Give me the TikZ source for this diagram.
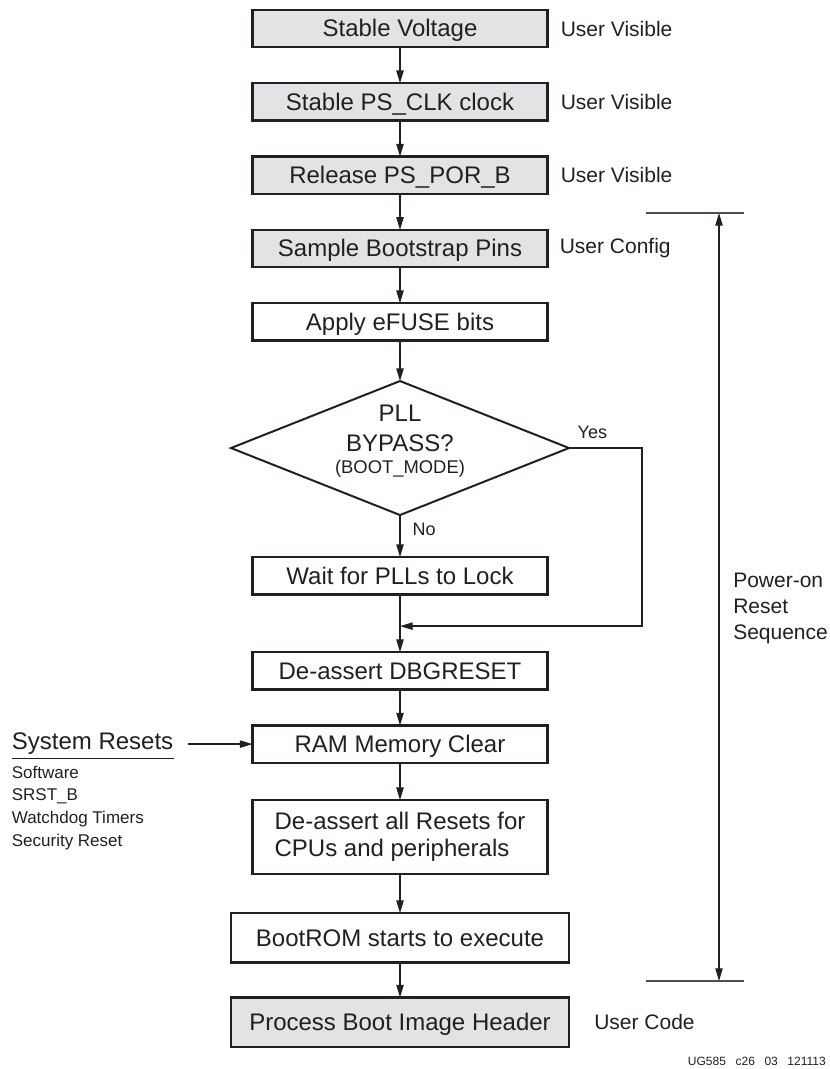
\documentclass[tikz,border=0pt]{standalone}
\usepackage{fontspec}
\setmainfont{Liberation Sans}
\usetikzlibrary{arrows.meta,positioning,shapes.geometric}
\definecolor{xilgray}{RGB}{226,227,229}
\definecolor{xilink} {RGB}{35, 31, 32}
\newcommand{\bigtxt}{\fontsize{18}{20}\selectfont}
\newcommand{\midtxt}{\fontsize{15.75}{19.5}\selectfont}
\newcommand{\smalltxt}{\fontsize{12.75}{17}\selectfont}
\newcommand{\flagtxt}{\fontsize{13.5}{16}\selectfont}

\begin{document}
\begin{tikzpicture}[
  x=0.75pt, y=-0.75pt,
  every node/.style={font=\bigtxt, align=center, text=xilink},
  frame/.style={draw=xilink, line width=1.7pt, outer sep=0pt, minimum width=221.25pt, inner sep=2pt},
  box/.style={frame, minimum height=28pt, text height=12.6pt, text depth=0pt},
  userbox/.style={box, fill=xilgray},
  widebox/.style={box, minimum width=253.5pt, minimum height=37pt},
  decision/.style={draw=xilink, line width=1.5pt, diamond, outer sep=0pt, minimum width=253.5pt, minimum height=100.5pt, inner sep=0pt},
  note/.style={font=\midtxt, inner sep=0pt},
  flag/.style={font=\flagtxt, inner sep=0pt},
  arrow/.style={-{Triangle[length=9.5pt,width=5.5pt]}, line width=1pt, xilink}
]
  \useasboundingbox (0,0) rectangle (829,1069);

  % Nodes
  \node (volt) [userbox] at (400,28.5) {Stable Voltage};
  \node (clk) [userbox, below=27pt of volt] {Stable PS\_CLK clock};
  \node (por) [userbox, below=27pt of clk] {Release PS\_POR\_B};
  \node (strap) [userbox, below=27pt of por] {Sample Bootstrap Pins};
  \node (efuse) [box, below=27pt of strap] {Apply eFUSE bits};
  \node (bypass) [decision, below=30.4pt of efuse] {};
  \node (bypasstxt) [yshift=5pt, font=\fontsize{18}{22.5}\selectfont] at (bypass) {PLL\\BYPASS?\\[-6pt]{\fontsize{13.8}{16}\selectfont (BOOT\_MODE)}};
  \node (pll) [box, below=31.5pt of bypass] {Wait for PLLs to Lock};
  \node (dbg) [box, below=43.3pt of pll] {De-assert DBGRESET};
  \node (ram) [box, below=27pt of dbg] {RAM Memory Clear};
  \node (rst) [frame, below=28pt of ram, minimum height=55.5pt, align=left] {De-assert all Resets for\\CPUs and peripherals};
  \node (brom) [widebox, below=29.25pt of rst] {BootROM starts to execute};
  \node (hdr) [widebox, fill=xilgray, below=26.25pt of brom] {Process Boot Image Header};

  \node (uv1) [note, right=9.75pt of volt] {User Visible};
  \node (uv2) [note, right=9.75pt of clk] {User Visible};
  \node (uv3) [note, right=9.75pt of por] {User Visible};
  \node (ucfg) [note, right=9pt of strap] {User Config};
  \node (ucode) [note, right=18.75pt of hdr] {User Code};

  \node (sysres) [inner xsep=0pt, inner ysep=2.6pt, left=59.25pt of ram] {System Resets};
  \node (causes) [font=\smalltxt, align=left, inner sep=0pt, below=5.25pt of sysres.south west, anchor=north west] {Software\\SRST\_B\\Watchdog Timers\\Security Reset};

  % Power-on bracket
  \coordinate (brtop) at (719,213);
  \coordinate (brbot) at (719,981);
  \node (seq) [note, align=left, anchor=west] at (733,608) {Power-on\\Reset\\Sequence};

  \node (figid) [font=\fontsize{9}{11}\selectfont, anchor=east, inner sep=0pt] at (826,1061) {UG585\hspace{0.8em}c26\hspace{0.8em}03\hspace{0.8em}121113};

  % Paths
  \draw [arrow] (volt) -- (clk);
  \draw [arrow] (clk) -- (por);
  \draw [arrow] (por) -- (strap);
  \draw [arrow] (strap) -- (efuse);
  \draw [arrow] (efuse) -- (bypass);
  \draw [arrow] (bypass) -- node[flag, right=9pt, pos=0.35] {No} (pll);
  \path (pll) -- coordinate[pos=0.55] (join) (dbg);
  \draw [arrow] (pll) -- (dbg);
  \draw [arrow] (bypass.east) -- node[flag, above=6.4pt, pos=0.32] {Yes} ++(73,0) |- (join);
  \draw [arrow] (dbg) -- (ram);
  \draw [arrow] (ram) -- (rst);
  \draw [arrow] (rst) -- (brom);
  \draw [arrow] (brom) -- (hdr);

  \draw [xilink, line width=0.8pt] (sysres.south west) -- (sysres.south east);
  \draw [arrow, shorten <=10.5pt] (sysres.east) -- (sysres.east -| ram.west);

  \draw [{Triangle[length=9.5pt,width=5.5pt]}-{Triangle[length=9.5pt,width=5.5pt]}, line width=0.8pt, xilink] (brtop) -- (brbot);
  \draw [xilink!80, line width=0.8pt] ([xshift=-54.75pt]brtop) -- ([xshift=18.75pt]brtop);
  \draw [xilink!80, line width=0.8pt] ([xshift=-54.75pt]brbot) -- ([xshift=18.75pt]brbot);
\end{tikzpicture}
\end{document}
